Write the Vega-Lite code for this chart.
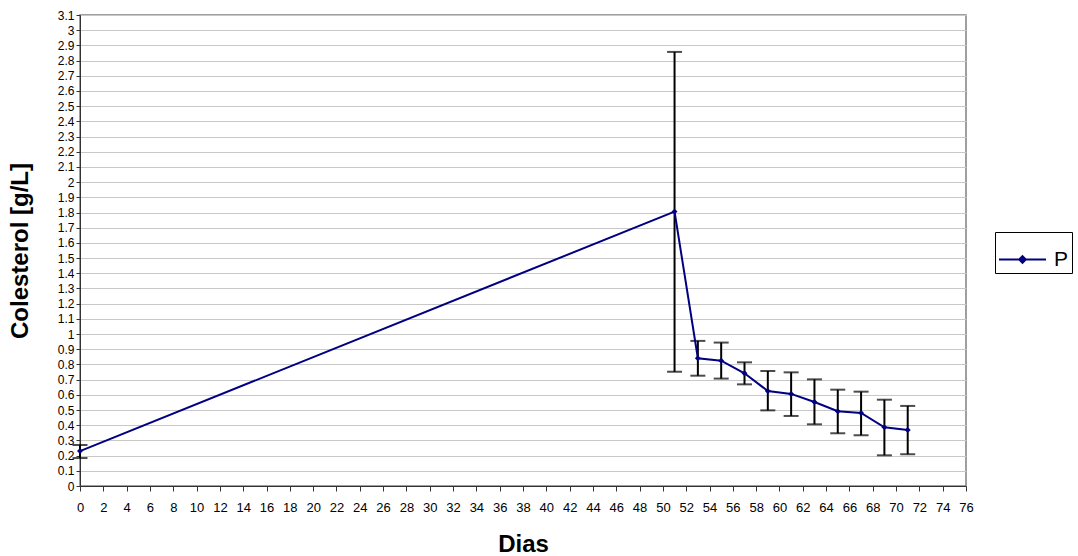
{
  "$schema": "https://vega.github.io/schema/vega-lite/v6.json",
  "width": 886,
  "height": 471,
  "autosize": {"type": "none"},
  "padding": {"left": 80, "top": 15, "right": 112, "bottom": 70},
  "background": "white",
  "config": {
    "font": "Liberation Sans",
    "view": {"stroke": "#808080", "strokeWidth": 1.5},
    "axis": {"labelFont": "Liberation Sans", "titleFont": "Liberation Sans", "labelColor": "black", "titleColor": "black", "domainColor": "#333333", "tickColor": "#333333"}
  },
  "data": {
    "values": [
      {"dia": 0, "media": 0.23, "lo": 0.184, "hi": 0.27, "serie": "P"},
      {"dia": 51, "media": 1.806, "lo": 0.752, "hi": 2.857, "serie": "P"},
      {"dia": 53, "media": 0.841, "lo": 0.726, "hi": 0.955, "serie": "P"},
      {"dia": 55, "media": 0.825, "lo": 0.707, "hi": 0.944, "serie": "P"},
      {"dia": 57, "media": 0.742, "lo": 0.669, "hi": 0.814, "serie": "P"},
      {"dia": 59, "media": 0.625, "lo": 0.498, "hi": 0.757, "serie": "P"},
      {"dia": 61, "media": 0.606, "lo": 0.461, "hi": 0.748, "serie": "P"},
      {"dia": 63, "media": 0.553, "lo": 0.406, "hi": 0.702, "serie": "P"},
      {"dia": 65, "media": 0.492, "lo": 0.347, "hi": 0.634, "serie": "P"},
      {"dia": 67, "media": 0.481, "lo": 0.334, "hi": 0.621, "serie": "P"},
      {"dia": 69, "media": 0.386, "lo": 0.202, "hi": 0.568, "serie": "P"},
      {"dia": 71, "media": 0.369, "lo": 0.209, "hi": 0.527, "serie": "P"}
    ]
  },
  "encoding": {
    "x": {
      "field": "dia", "type": "quantitative",
      "scale": {"domain": [0, 76], "nice": false, "zero": false},
      "axis": {"title": "Dias", "values": [0,2,4,6,8,10,12,14,16,18,20,22,24,26,28,30,32,34,36,38,40,42,44,46,48,50,52,54,56,58,60,62,64,66,68,70,72,74,76], "grid": false, "tickSize": 5, "labelPadding": 10, "labelFontSize": 13, "titleFontSize": 24, "titleFontWeight": "bold", "titlePadding": 18, "labelFlush": false, "labelOverlap": false}
    }
  },
  "layer": [
    {
      "mark": {"type": "rule", "color": "black", "strokeWidth": 2},
      "encoding": {
        "y": {"field": "lo", "type": "quantitative",
          "scale": {"domain": [0, 3.1], "nice": false},
          "axis": {"title": "Colesterol [g/L]", "values": [0,0.1,0.2,0.3,0.4,0.5,0.6,0.7,0.8,0.9,1,1.1,1.2,1.3,1.4,1.5,1.6,1.7,1.8,1.9,2,2.1,2.2,2.3,2.4,2.5,2.6,2.7,2.8,2.9,3,3.1], "format": ".1~f", "grid": true, "gridColor": "#c8c8c8", "gridWidth": 1, "tickSize": 4, "labelPadding": 2, "labelFontSize": 12, "titleFontSize": 24, "titleFontWeight": "bold", "titlePadding": 25, "labelFlush": false, "labelOverlap": false}},
        "y2": {"field": "hi"}
      }
    },
    {
      "mark": {"type": "tick", "orient": "horizontal", "color": "black", "size": 15, "thickness": 2},
      "encoding": {"y": {"field": "lo", "type": "quantitative",
          "scale": {"domain": [0, 3.1], "nice": false},
          "axis": {"title": "Colesterol [g/L]", "values": [0,0.1,0.2,0.3,0.4,0.5,0.6,0.7,0.8,0.9,1,1.1,1.2,1.3,1.4,1.5,1.6,1.7,1.8,1.9,2,2.1,2.2,2.3,2.4,2.5,2.6,2.7,2.8,2.9,3,3.1], "format": ".1~f", "grid": true, "gridColor": "#c8c8c8", "gridWidth": 1, "tickSize": 4, "labelPadding": 2, "labelFontSize": 12, "titleFontSize": 24, "titleFontWeight": "bold", "titlePadding": 25, "labelFlush": false, "labelOverlap": false}}}
    },
    {
      "mark": {"type": "tick", "orient": "horizontal", "color": "black", "size": 15, "thickness": 2},
      "encoding": {"y": {"field": "hi", "type": "quantitative",
          "scale": {"domain": [0, 3.1], "nice": false},
          "axis": {"title": "Colesterol [g/L]", "values": [0,0.1,0.2,0.3,0.4,0.5,0.6,0.7,0.8,0.9,1,1.1,1.2,1.3,1.4,1.5,1.6,1.7,1.8,1.9,2,2.1,2.2,2.3,2.4,2.5,2.6,2.7,2.8,2.9,3,3.1], "format": ".1~f", "grid": true, "gridColor": "#c8c8c8", "gridWidth": 1, "tickSize": 4, "labelPadding": 2, "labelFontSize": 12, "titleFontSize": 24, "titleFontWeight": "bold", "titlePadding": 25, "labelFlush": false, "labelOverlap": false}}}
    },
    {
      "mark": {"type": "line", "strokeWidth": 2, "point": {"shape": "diamond", "size": 35, "filled": true}},
      "encoding": {
        "y": {"field": "media", "type": "quantitative",
          "scale": {"domain": [0, 3.1], "nice": false},
          "axis": {"title": "Colesterol [g/L]", "values": [0,0.1,0.2,0.3,0.4,0.5,0.6,0.7,0.8,0.9,1,1.1,1.2,1.3,1.4,1.5,1.6,1.7,1.8,1.9,2,2.1,2.2,2.3,2.4,2.5,2.6,2.7,2.8,2.9,3,3.1], "format": ".1~f", "grid": true, "gridColor": "#c8c8c8", "gridWidth": 1, "tickSize": 4, "labelPadding": 2, "labelFontSize": 12, "titleFontSize": 24, "titleFontWeight": "bold", "titlePadding": 25, "labelFlush": false, "labelOverlap": false}},
        "color": {"field": "serie", "type": "nominal",
          "scale": {"range": ["#000080"]},
          "legend": {"title": null, "orient": "none", "legendX": 915, "legendY": 217,
            "strokeColor": "black", "padding": 3,
            "symbolType": "M-1,0L1,0M0,-0.14L0.14,0L0,0.14L-0.14,0Z",
            "symbolSize": 2209, "symbolStrokeWidth": 2, "symbolStrokeColor": "#000080", "symbolFillColor": "#000080",
            "labelFontSize": 21, "labelColor": "black", "labelOffset": 7, "labelFont": "Liberation Sans"}
        }
      }
    }
  ]
}
